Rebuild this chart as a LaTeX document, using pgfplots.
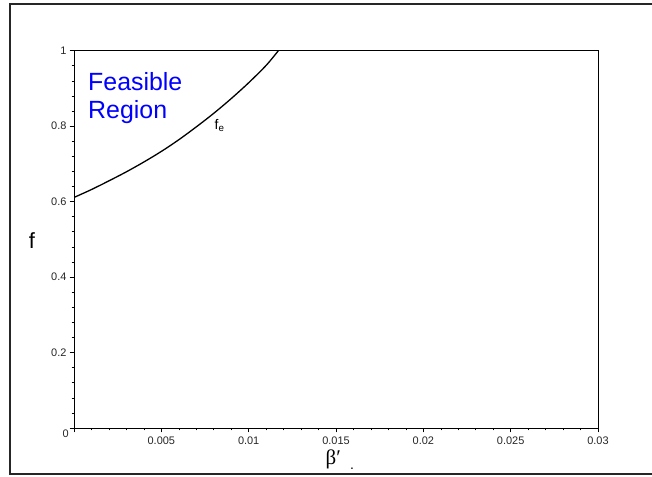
\documentclass[border=0pt]{standalone}
\usepackage{fontspec}
\setmainfont{Liberation Sans}
\newfontfamily\serifgr{Liberation Serif}
\usepackage{pgfplots}
\pgfplotsset{compat=1.18}
\definecolor{feasblue}{RGB}{0,0,255}
\begin{document}
\begin{tikzpicture}[x=1bp,y=1bp]
\useasboundingbox (0,0) rectangle (652,477);
\clip (0,0) rectangle (652,477);
\draw[line width=1.8bp, black!85] (10,3) rectangle (720,472.7);
\begin{axis}[
  at={(74bp,49bp)}, anchor=south west, scale only axis,
  width=524bp, height=377.3bp,
  xmin=0, xmax=0.03, ymin=0, ymax=1,
  scaled x ticks=false, scaled y ticks=false,
  xtick={0,0.005,0.01,0.015,0.02,0.025,0.03},
  xticklabels={,0.005,0.01,0.015,0.02,0.025,0.03},
  ytick={0,0.2,0.4,0.6,0.8,1},
  yticklabels={,0.2,0.4,0.6,0.8,1},
  minor x tick num=4, minor y tick num=4,
  tick align=outside, tick pos=left,
  major tick length=4.5bp, minor tick length=2.3bp,
  every tick/.style={black, line width=0.6bp},
  tick label style={font=\fontsize{11}{12}\selectfont, text=black!85},
  xticklabel style={yshift=-0.5bp},
  yticklabel style={xshift=0.5bp},
  axis line style={line width=0.8bp, black},
]
\addplot[black, line width=1.3bp, smooth] coordinates {
  (0,0.611) (0.001,0.632) (0.002,0.655) (0.003,0.679) (0.004,0.705)
  (0.005,0.733) (0.006,0.764) (0.007,0.798) (0.008,0.834)
  (0.009,0.873) (0.010,0.915) (0.011,0.961) (0.0117,1.0)
};
\end{axis}
\node[anchor=north east, inner sep=0pt, font=\fontsize{11}{12}\selectfont, text=black!85] at (69,47) {0};
\node[anchor=north west, inner sep=0pt, align=left, text=feasblue,
  font=\fontsize{25}{28}\selectfont] at (88,404.3) {Feasible\\Region};
\node[anchor=base west, inner sep=0pt, font=\fontsize{14}{16}\selectfont] at (214.5,347.7) {f\textsubscript{e}};
\node[inner sep=0pt, font=\fontsize{22}{24}\selectfont] at (32,236) {f};
\node[anchor=base west, inner sep=0pt, font=\serifgr\fontsize{21}{24}\selectfont] at (325.5,12) {β′};
\node[anchor=base west, inner sep=0pt, font=\fontsize{14}{16}\selectfont] at (350,7) {.};
\end{tikzpicture}
\end{document}
